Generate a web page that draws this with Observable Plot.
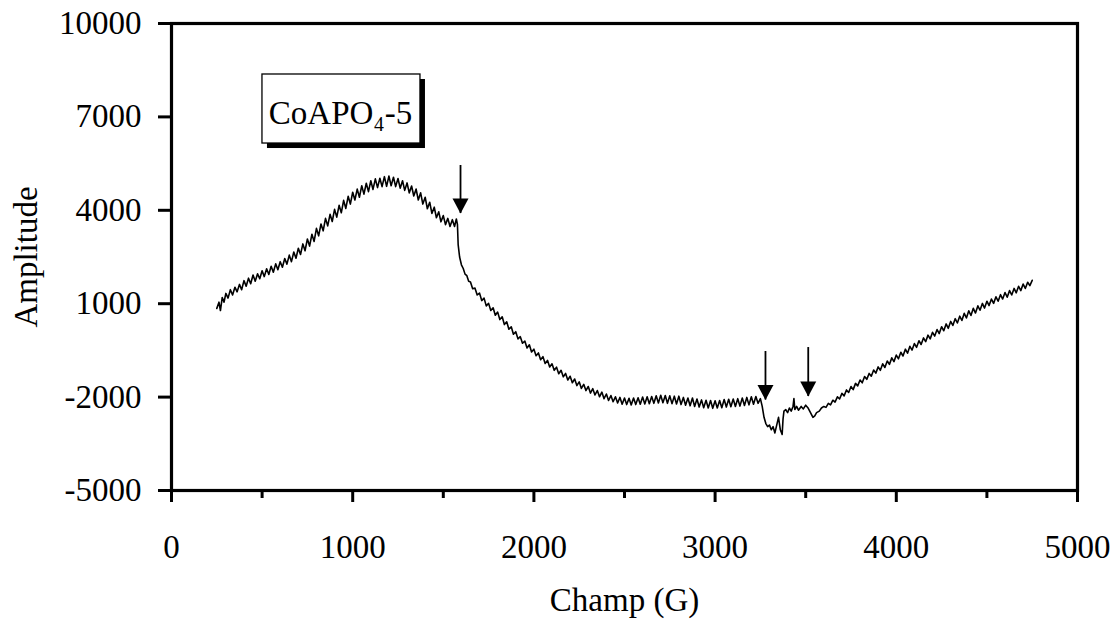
<!DOCTYPE html>
<html><head><meta charset="utf-8">
<script src="https://cdn.jsdelivr.net/npm/d3@7"></script>
<script src="https://cdn.jsdelivr.net/npm/@observablehq/plot@0.6"></script>
<style>body{margin:0;background:#fff}</style>
</head><body><div id="chart"></div>
<script>
// EPR spectrum (noise band traced by hand): [field (G), amplitude]
const spectrum = [
[250,850],[262,1050],[270,780],[280,1200],[290,1050],[300,1330],[312,1180],[325,1450],[337,1280],[350,1530],
[362,1380],[375,1620],[387,1450],[400,1740],[412,1560],[425,1820],[437,1640],[450,1920],[462,1720],[475,1960],
[487,1800],[500,2060],[512,1870],[525,2120],[537,1940],[550,2200],[562,2010],[575,2280],[587,2090],[600,2350],
[612,2170],[625,2450],[637,2270],[650,2560],[662,2350],[675,2660],[687,2460],[700,2780],[712,2580],[725,2920],
[737,2700],[750,3080],[762,2850],[775,3230],[787,3000],[800,3420],[812,3180],[825,3560],[837,3340],[850,3740],
[862,3500],[875,3870],[887,3640],[900,4030],[912,3780],[925,4160],[937,3920],[950,4320],[962,4060],[975,4450],
[987,4200],[1000,4580],[1012,4330],[1025,4680],[1037,4420],[1050,4790],[1062,4520],[1075,4870],[1087,4600],[1100,4950],
[1112,4670],[1125,5010],[1137,4730],[1150,5030],[1162,4760],[1175,5080],[1187,4770],[1200,5100],[1212,4790],[1225,5060],
[1237,4760],[1250,5020],[1262,4710],[1275,4950],[1287,4640],[1300,4880],[1312,4560],[1325,4780],[1337,4460],[1350,4680],
[1362,4330],[1375,4560],[1387,4200],[1400,4420],[1412,4050],[1425,4260],[1437,3900],[1450,4100],[1462,3760],[1475,3950],
[1487,3630],[1500,3830],[1512,3540],[1525,3740],[1537,3480],[1550,3700],[1562,3480],[1572,3720],[1578,3550],[1582,2900],
[1590,2500],[1600,2250],[1610,2130],[1620,1950],[1630,1900],[1640,1720],[1650,1700],[1662,1480],[1675,1500],[1687,1280],
[1700,1340],[1712,1100],[1725,1180],[1737,930],[1750,1010],[1762,780],[1775,870],[1787,630],[1800,730],[1812,490],
[1825,580],[1837,330],[1850,420],[1862,180],[1875,260],[1887,20],[1900,100],[1912,-130],[1925,-60],[1937,-270],
[1950,-200],[1962,-420],[1975,-320],[1987,-550],[2000,-460],[2012,-670],[2025,-580],[2037,-800],[2050,-700],[2062,-920],
[2075,-820],[2087,-1030],[2100,-930],[2112,-1140],[2125,-1040],[2137,-1250],[2150,-1140],[2162,-1350],[2175,-1240],[2187,-1450],
[2200,-1330],[2212,-1540],[2225,-1420],[2237,-1630],[2250,-1510],[2262,-1720],[2275,-1590],[2287,-1790],[2300,-1660],[2312,-1870],
[2325,-1730],[2337,-1930],[2350,-1790],[2362,-1990],[2375,-1840],[2387,-2050],[2400,-1900],[2412,-2110],[2425,-1950],[2437,-2150],
[2450,-1990],[2462,-2190],[2475,-2010],[2487,-2230],[2500,-2030],[2512,-2240],[2525,-2040],[2537,-2250],[2550,-2030],[2562,-2240],
[2575,-2020],[2587,-2230],[2600,-2000],[2612,-2220],[2625,-1990],[2637,-2210],[2650,-1980],[2662,-2200],[2675,-1960],[2687,-2190],
[2700,-1940],[2712,-2180],[2725,-1950],[2737,-2200],[2750,-1960],[2762,-2210],[2775,-1970],[2787,-2220],[2800,-1970],[2812,-2240],
[2825,-2010],[2837,-2260],[2850,-2030],[2862,-2280],[2875,-2030],[2887,-2300],[2900,-2060],[2912,-2320],[2925,-2090],[2937,-2340],
[2950,-2100],[2962,-2350],[2975,-2110],[2987,-2360],[3000,-2120],[3012,-2350],[3025,-2110],[3037,-2340],[3050,-2080],[3062,-2320],
[3075,-2070],[3087,-2310],[3100,-2060],[3112,-2300],[3125,-2050],[3137,-2290],[3150,-2030],[3162,-2270],[3175,-2010],[3187,-2250],
[3200,-1990],[3212,-2230],[3225,-1980],[3237,-2200],[3250,-2050],[3260,-2300],[3270,-2650],[3280,-2850],[3290,-2950],[3300,-2900],
[3310,-3050],[3320,-2950],[3330,-3150],[3340,-2900],[3350,-2650],[3360,-3050],[3370,-3200],[3375,-2700],[3380,-2450],[3390,-2400],
[3400,-2500],[3410,-2350],[3420,-2450],[3430,-2300],[3435,-2050],[3440,-2400],[3450,-2300],[3460,-2420],[3475,-2300],[3487,-2380],
[3500,-2260],[3512,-2340],[3525,-2480],[3540,-2650],[3550,-2600],[3560,-2500],[3575,-2450],[3587,-2350],[3600,-2300],[3612,-2330],
[3625,-2200],[3637,-2250],[3650,-2100],[3662,-2160],[3675,-1990],[3687,-2060],[3700,-1880],[3712,-1960],[3725,-1770],[3737,-1850],
[3750,-1660],[3762,-1760],[3775,-1560],[3787,-1640],[3800,-1450],[3812,-1540],[3825,-1340],[3837,-1430],[3850,-1240],[3862,-1330],
[3875,-1130],[3887,-1230],[3900,-1030],[3912,-1140],[3925,-930],[3937,-1050],[3950,-840],[3962,-950],[3975,-740],[3987,-860],
[4000,-650],[4012,-770],[4025,-560],[4037,-680],[4050,-460],[4062,-590],[4075,-370],[4087,-490],[4100,-280],[4112,-400],
[4125,-190],[4137,-310],[4150,-100],[4162,-220],[4175,-10],[4187,-130],[4200,80],[4212,-40],[4225,170],[4237,40],
[4250,260],[4262,130],[4275,350],[4287,210],[4300,430],[4312,300],[4325,520],[4337,380],[4350,600],[4362,460],
[4375,690],[4387,540],[4400,770],[4412,620],[4425,850],[4437,700],[4450,930],[4462,790],[4475,1010],[4487,860],
[4500,1080],[4512,940],[4525,1150],[4537,1010],[4550,1220],[4562,1080],[4575,1290],[4587,1150],[4600,1360],[4612,1210],
[4625,1420],[4637,1280],[4650,1490],[4662,1350],[4675,1560],[4687,1420],[4700,1630],[4712,1490],[4725,1690],[4737,1580],
[4750,1750]
];
const yTicks = [-5000, -2000, 1000, 4000, 7000, 10000];
const xTicks = [0, 1000, 2000, 3000, 4000, 5000];
const xMinorTicks = [500, 1500, 2500, 3500, 4500];
const arrowField = [1595, 3278, 3514];
const arrowTail = [5439, -536, -408];
const arrowTip = [3897, -2094, -1982];
const sampleLabel = "CoAPO₄-5";
const labelBox = [{x1: 502, x2: 1374, y1: 6145, y2: 8362}];
const labelPos = [{x: 933, y: 7109}];
const xLabel = "Champ (G)";
const yLabel = "Amplitude";

const data = spectrum.map(([f, a]) => ({field: f, amp: a}));
const arrows = arrowField.map((f, i) => ({field: f, tail: arrowTail[i], tip: arrowTip[i]}));
const arrowHead = {draw(ctx) { ctx.moveTo(0, 0); ctx.lineTo(-8, -15); ctx.lineTo(8, -15); ctx.closePath(); }};
const font = "'Liberation Serif', 'Times New Roman', Times, serif";

const chart = Plot.plot({
  width: 1117, height: 624,
  marginLeft: 171, marginRight: 40, marginTop: 23, marginBottom: 134,
  x: {domain: [0, 5000]},
  y: {domain: [-5000, 10000]},
  style: {fontFamily: font, fontSize: "33px", color: "black", background: "white"},
  marks: [
    Plot.axisY({ticks: yTicks, tickSize: 13, tickPadding: 17, tickFormat: d => String(d), label: null, strokeWidth: 3, fontSize: 33}),
    Plot.axisX({ticks: xTicks, tickSize: 12, tickPadding: 32, tickFormat: d => String(d), label: null, strokeWidth: 3, fontSize: 33}),
    Plot.axisX({ticks: xMinorTicks, tickSize: 8, text: null, label: null, strokeWidth: 3}),
    Plot.frame({strokeWidth: 3.2}),
    Plot.line(data, {x: "field", y: "amp", stroke: "black", strokeWidth: 1.6}),
    Plot.rect(labelBox, {x1: "x1", x2: "x2", y1: "y1", y2: "y2", fill: "black", dx: 5, dy: 5}),
    Plot.rect(labelBox, {x1: "x1", x2: "x2", y1: "y1", y2: "y2", fill: "white", stroke: "black", strokeWidth: 1.3}),
    Plot.text(labelPos, {x: "x", y: "y", text: () => sampleLabel, fontSize: 33}),
    Plot.ruleX(arrows, {x: "field", y1: "tail", y2: "tip", stroke: "black", strokeWidth: 1.8}),
    Plot.dot(arrows, {x: "field", y: "tip", symbol: arrowHead, fill: "black", stroke: null}),
    Plot.text([yLabel], {frameAnchor: "left", textAnchor: "middle", dx: -145, rotate: -90, fontSize: 33}),
    Plot.text([xLabel], {frameAnchor: "bottom", textAnchor: "middle", dy: 120, fontSize: 33})
  ]
});
document.getElementById("chart").appendChild(chart);
</script>
</body></html>
